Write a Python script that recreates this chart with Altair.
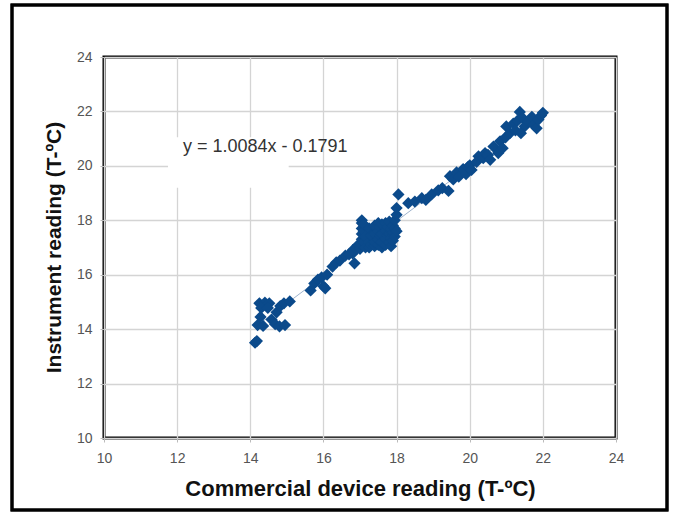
import altair as alt
import pandas as pd

# Commercial device reading (x) vs instrument reading (y), degrees C
x_vals = [
    14.13, 14.18,
    14.25, 14.40, 14.52, 14.30, 14.48, 14.20, 14.35, 14.28, 14.58, 14.68, 14.80, 14.95, 14.72, 14.82, 14.92, 15.08,
    15.65, 15.75, 15.85, 15.95, 16.05, 16.00, 16.10, 16.25, 16.35, 16.45, 16.60, 16.85, 16.80,
    16.70, 16.80, 16.90, 16.95, 17.00,
    17.05, 17.05, 17.05, 17.05, 17.05, 17.05,
    17.10, 17.10, 17.10, 17.15, 17.15,
    17.25, 17.25, 17.25, 17.30, 17.30,
    17.40, 17.40, 17.40, 17.40,
    17.50, 17.50, 17.50, 17.50, 17.55, 17.55,
    17.60, 17.60, 17.60, 17.60,
    17.70, 17.70, 17.70, 17.70, 17.75, 17.75,
    17.80, 17.80, 17.80, 17.85, 17.85, 17.85,
    17.90, 17.90, 17.90, 17.95, 17.95, 17.95,
    18.00, 18.00, 18.05, 18.00,
    18.32, 18.50, 18.69, 18.80, 18.96, 19.14, 19.25, 19.42,
    19.46, 19.55, 19.64, 19.70, 19.82, 19.90, 19.95, 20.00, 20.05, 20.19, 20.24, 20.37, 20.42, 20.50, 20.56,
    20.65, 20.78, 20.83, 20.90, 20.98, 21.00, 21.10, 21.19, 21.25, 21.30, 21.37, 21.45, 21.50, 21.60,
    21.70, 21.75, 21.83, 21.88, 21.95, 22.00, 21.40,
]
y_vals = [
    13.50, 13.56,
    14.95, 14.97, 14.95, 14.78, 14.78, 14.15, 14.12, 14.45, 14.35, 14.18, 14.10, 14.15, 14.62, 14.85, 14.95, 15.02,
    15.42, 15.68, 15.82, 15.90, 15.50, 15.58, 16.00, 16.30, 16.45, 16.52, 16.70, 16.42, 16.78,
    16.75, 16.90, 16.95, 17.10, 16.95,
    17.10, 17.30, 17.50, 17.70, 17.90, 18.00,
    17.20, 17.60, 17.85, 17.00, 17.40,
    17.00, 17.20, 17.70, 17.10, 17.45,
    17.05, 17.20, 17.50, 17.80,
    17.10, 17.30, 17.60, 17.90, 17.45, 17.75,
    17.00, 17.20, 17.50, 17.85,
    17.10, 17.30, 17.60, 17.90, 17.45, 17.75,
    17.20, 17.50, 17.95, 17.05, 17.35, 17.65,
    17.25, 17.55, 17.80, 17.40, 17.70, 18.00,
    18.20, 18.45, 18.95, 17.60,
    18.63, 18.69, 18.81, 18.75, 18.95, 19.10, 19.18, 19.08,
    19.62, 19.50, 19.76, 19.60, 19.88, 19.70, 19.95, 20.02, 19.85, 20.15, 20.35, 20.28, 20.47, 20.40, 20.22,
    20.71, 20.47, 20.90, 20.65, 21.05, 21.45, 21.20, 21.55, 21.30, 21.65, 21.98, 21.75, 21.45, 21.63,
    21.80, 21.50, 21.38, 21.70, 21.85, 21.95, 21.20,
]

slope = 1.0084
intercept = -0.1791
equation = "y = 1.0084x - 0.1791"
x_ticks = [10, 12, 14, 16, 18, 20, 22, 24]
y_ticks = [10, 12, 14, 16, 18, 20, 22, 24]

df = pd.DataFrame({"x": x_vals, "y": y_vals})
fit_df = pd.DataFrame({"x": [min(x_vals), max(x_vals)]})
label_df = pd.DataFrame({"x": [12.16], "y": [20.69], "t": [equation]})
box_df = pd.DataFrame({"x": [11.75], "x2": [15.05], "y": [19.2], "y2": [21.05]})

FONT = "Liberation Sans"

xscale = alt.Scale(domain=[10, 24], nice=False, zero=False)
yscale = alt.Scale(domain=[10, 24], nice=False, zero=False)

xaxis = alt.Axis(
    values=x_ticks, title="Commercial device reading (T-ºC)",
    grid=True, gridColor="#d4d4d4", gridWidth=1.3,
    domain=False, ticks=True, tickSize=4, tickColor="#bbbbbb",
    labelFont=FONT, labelFontSize=14, labelColor="#555555", labelPadding=9,
    labelFlush=False, labelOverlap=False,
    titleFont=FONT, titleFontSize=22, titleFontWeight="bold", titleColor="#111111",
    titleX=256, titleY=50, titleBaseline="middle", titleAlign="center",
)
yaxis = alt.Axis(
    values=y_ticks, title="Instrument reading (T-ºC)",
    grid=True, gridColor="#d4d4d4", gridWidth=1.3,
    domain=False, ticks=True, tickSize=4, tickColor="#bbbbbb",
    labelFont=FONT, labelFontSize=14, labelColor="#555555", labelPadding=8,
    labelFlush=False, labelOverlap=False,
    titleFont=FONT, titleFontSize=21, titleFontWeight="bold", titleColor="#111111",
    titleX=-50, titleY=190, titleBaseline="middle", titleAlign="center", titleAngle=270,
)

base_axes = alt.Chart(df).mark_point(opacity=0).encode(
    x=alt.X("x:Q", scale=xscale, axis=xaxis),
    y=alt.Y("y:Q", scale=yscale, axis=yaxis),
)

box = alt.Chart(box_df).mark_rect(color="white").encode(
    x=alt.X("x:Q", scale=xscale), x2="x2:Q",
    y=alt.Y("y:Q", scale=yscale), y2="y2:Q",
)

fit = alt.Chart(fit_df).transform_calculate(
    yfit=f"datum.x * {slope} + ({intercept})"
).mark_line(color="#9fb3cc", strokeWidth=1).encode(
    x=alt.X("x:Q", scale=xscale),
    y=alt.Y("yfit:Q", scale=yscale),
)

points = alt.Chart(df).mark_point(
    shape="diamond", filled=True, size=150, color="#0b4a8b", opacity=1
).encode(
    x=alt.X("x:Q", scale=xscale),
    y=alt.Y("y:Q", scale=yscale),
)

label = alt.Chart(label_df).mark_text(
    align="left", baseline="middle", font=FONT, fontSize=18, color="#333333"
).encode(
    x=alt.X("x:Q", scale=xscale),
    y=alt.Y("y:Q", scale=yscale),
    text="t:N",
)

outer = alt.Chart(fit_df).mark_rect(
    filled=False, stroke="black", strokeWidth=3
).encode(
    x=alt.value(-92), x2=alt.value(563), y=alt.value(-52), y2=alt.value(453),
)

chart = alt.layer(base_axes, box, fit, points, label, outer).properties(
    width=512, height=381,
    background="white",
    autosize=alt.AutoSizeParams(type="none"),
    padding={"left": 104, "top": 57, "right": 59, "bottom": 77},
).configure_view(
    stroke="black", strokeWidth=3
)

chart.save("out.html", embed_options={"renderer": "svg", "actions": False})
